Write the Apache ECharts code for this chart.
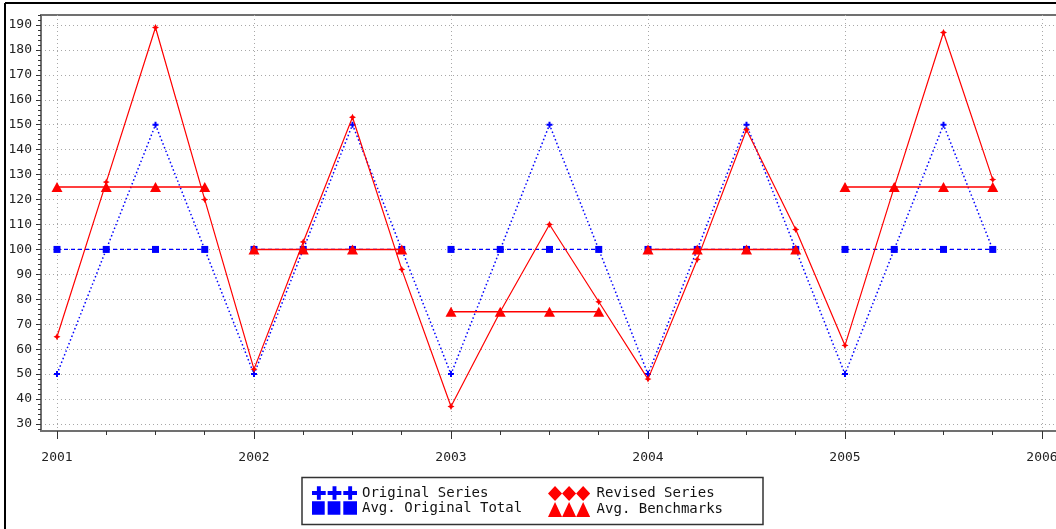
<!DOCTYPE html>
<html>
<head>
<meta charset="utf-8">
<style>
  html, body { margin: 0; padding: 0; background: #fff; }
  #chart { width: 1056px; height: 529px; }
</style>
<script src="https://cdn.jsdelivr.net/npm/echarts@6/dist/echarts.min.js"></script>
</head>
<body>
<div id="chart"></div>
<script>
// Years on the x axis; each year holds four quarterly observations.
const years = [2001, 2002, 2003, 2004, 2005];
const quarterOffsets = [0, 0.25, 0.5, 0.75];
const yearTicks = [2001, 2002, 2003, 2004, 2005, 2006];
const valueTicks = [30, 40, 50, 60, 70, 80, 90, 100, 110, 120, 130, 140, 150, 160, 170, 180, 190];

// Quarterly series
const originalSeries = [50, 100, 150, 100, 50, 100, 150, 100, 50, 100, 150, 100, 50, 100, 150, 100, 50, 100, 150, 100];
const revisedSeries = [65, 127, 189, 120, 52, 103, 153, 92, 37, 75, 110, 79, 48, 96, 148, 108, 61.5, 125, 187, 128];

// Yearly averages, drawn flat across each year's quarters
const avgOriginalTotal = [100, 100, 100, 100, 100];
const avgBenchmarks = [125, 100, 75, 100, 125];

function quarterly(values) {
  const out = [];
  years.forEach((y, i) => quarterOffsets.forEach((q, j) => out.push([y + q, values[i * 4 + j]])));
  return out;
}
function yearlyFlat(values) {
  const out = [];
  years.forEach((y, i) => {
    quarterOffsets.forEach(q => out.push([y + q, values[i]]));
    out.push([y + 0.875, '-']); // break the line between years
  });
  return out;
}
function range(a, b, step) {
  const out = [];
  for (let v = a; v <= b + 1e-9; v += step) out.push(Math.round(v * 1000) / 1000);
  return out;
}

const BLUE = '#0000ff';
const RED = '#ff0000';
const AXIS = '#707070';
const MONO = 'DejaVu Sans Mono';

const plusSmall = 'path://M2,0h2v2h2v2h-2v2h-2v-2h-2v-2h2z';
const starSmall = 'path://M3,0L4,2L6,3L4,4L3,6L2,4L0,3L2,2Z';

const iconPlus = 'path://M5,0h4v5h5v4h-5v5h-4v-5h-5v-4h5z' +
  'M21,0h4v5h5v4h-5v5h-4v-5h-5v-4h5z' +
  'M37,0h4v5h5v4h-5v5h-4v-5h-5v-4h5z';
const iconSquare = 'path://M0,0h13v14h-13z M16,0h13v14h-13z M32,0h14v14h-14z';
const iconDiamond = 'path://M7.5,0L15,8L7.5,16L0,8Z M22.5,0L30,8L22.5,16L15,8Z M37.5,0L45,8L37.5,16L30,8Z';
const iconTriangle = 'path://M7.5,0L15,16L0,16Z M22.5,0L30,16L15,16Z M37.5,0L45,16L30,16Z';

const chart = echarts.init(document.getElementById('chart'), null, { renderer: 'canvas' });

// Plot spans past the right edge of the canvas, so only its top, left and bottom show.
const plotWidth = 1030;
const xMin = 2000.9188, xMax = xMin + plotWidth / 197;
const yMin = 27.19, yMax = 194.01;

chart.setOption({
  animation: false,
  backgroundColor: '#ffffff',
  grid: {
    left: 41, top: 15, width: plotWidth, bottom: 98,
    outerBoundsMode: 'none', containLabel: false,
    show: true, borderColor: AXIS, borderWidth: 2, backgroundColor: '#ffffff'
  },
  xAxis: [{
    type: 'value', min: xMin, max: xMax,
    axisLine: { show: true, onZero: false, lineStyle: { color: AXIS, width: 2 } },
    axisTick: { show: true, customValues: yearTicks, length: 8, lineStyle: { color: '#333', width: 1 } },
    axisLabel: {
      customValues: yearTicks, margin: 20, color: '#222',
      fontFamily: MONO, fontSize: 13, formatter: v => String(Math.round(v))
    },
    splitLine: { show: true, lineStyle: { color: '#a8a8a8', type: [1, 3], width: 1 } }
  }, {
    type: 'value', min: xMin, max: xMax, position: 'bottom',
    axisLine: { show: false },
    axisTick: { show: true, customValues: range(2001.25, 2005.75, 0.25).filter(v => v % 1 !== 0), length: 4, lineStyle: { color: '#333', width: 1 } },
    axisLabel: { show: false },
    splitLine: { show: false }
  }],
  yAxis: [{
    type: 'value', min: yMin, max: yMax,
    axisLine: { show: true, onZero: false, lineStyle: { color: AXIS, width: 2 } },
    axisTick: { show: true, customValues: valueTicks, length: 5, lineStyle: { color: '#333', width: 1 } },
    axisLabel: {
      customValues: valueTicks, margin: 9, color: '#222',
      fontFamily: MONO, fontSize: 13
    },
    splitLine: { show: true, lineStyle: { color: '#a8a8a8', type: [1, 3], width: 1 } }
  }, {
    type: 'value', min: yMin, max: yMax, position: 'left',
    axisLine: { show: false },
    axisTick: { show: true, customValues: range(28, 194, 2), length: 3, lineStyle: { color: '#333', width: 1 } },
    axisLabel: { show: false },
    splitLine: { show: false }
  }],
  legend: [{
    left: 307, top: 481, orient: 'vertical', itemGap: 1,
    itemWidth: 45, itemHeight: 15, selectedMode: false,
    textStyle: { fontFamily: MONO, fontSize: 14, color: '#111' },
    data: [
      { name: 'Original Series', icon: iconPlus },
      { name: 'Avg. Original Total', icon: iconSquare }
    ]
  }, {
    left: 543, top: 481, orient: 'vertical', itemGap: 1,
    itemWidth: 45, itemHeight: 15, selectedMode: false,
    textStyle: { fontFamily: MONO, fontSize: 14, color: '#111' },
    data: [
      { name: 'Revised Series', icon: iconDiamond },
      { name: 'Avg. Benchmarks', icon: iconTriangle }
    ]
  }],
  graphic: [
    { type: 'rect', shape: { x: 302, y: 477.5, width: 461, height: 47 }, style: { fill: 'none', stroke: '#333', lineWidth: 1.5 }, silent: true, z: 100 },
    { type: 'line', shape: { x1: 5, y1: 3, x2: 1056, y2: 3 }, style: { stroke: '#000', lineWidth: 2 }, silent: true, z: 100 },
    { type: 'line', shape: { x1: 5, y1: 3, x2: 5, y2: 529 }, style: { stroke: '#000', lineWidth: 2 }, silent: true, z: 100 }
  ],
  series: [{
    name: 'Original Series', type: 'line',
    data: quarterly(originalSeries),
    symbol: plusSmall, symbolSize: 6,
    itemStyle: { color: BLUE },
    lineStyle: { color: BLUE, width: 1.5, type: [1.5, 2.5] },
    z: 2
  }, {
    name: 'Avg. Original Total', type: 'line',
    data: yearlyFlat(avgOriginalTotal),
    connectNulls: false,
    symbol: 'rect', symbolSize: 7,
    itemStyle: { color: BLUE },
    lineStyle: { color: BLUE, width: 1.2, type: [4, 3] },
    z: 3
  }, {
    name: 'Revised Series', type: 'line',
    data: quarterly(revisedSeries),
    symbol: starSmall, symbolSize: 7,
    itemStyle: { color: RED },
    lineStyle: { color: RED, width: 1.2 },
    z: 4
  }, {
    name: 'Avg. Benchmarks', type: 'line',
    data: yearlyFlat(avgBenchmarks),
    connectNulls: false,
    symbol: 'triangle', symbolSize: [11, 10],
    itemStyle: { color: RED },
    lineStyle: { color: RED, width: 1.5 },
    z: 5
  }]
});
</script>
</body>
</html>
